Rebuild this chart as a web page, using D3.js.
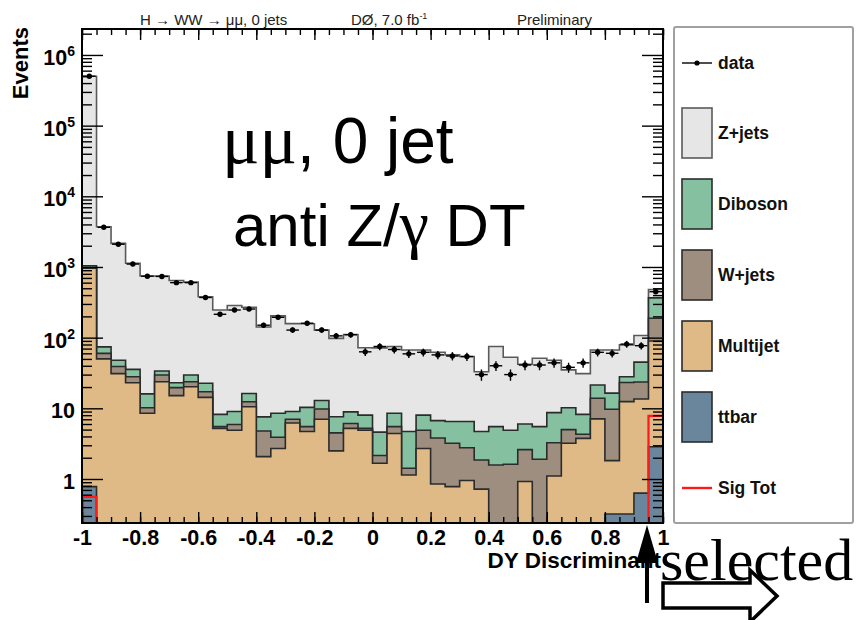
<!DOCTYPE html>
<html><head><meta charset="utf-8">
<script src="https://cdn.jsdelivr.net/npm/d3@7"></script>
<style>body{margin:0;background:#fff}svg{display:block}</style>
</head><body>
<svg id="c" width="862" height="620"></svg>
<script>
// ---------------- data ----------------
const binWidth = 0.05;
const binLow = d3.range(40).map(i => +(-1 + i * binWidth).toFixed(2));

const ttbar = [0.78,0,0,0,0,0,0,0,0,0, 0,0,0,0,0,0,0,0,0,0, 0,0,0,0,0,0,0,0,0,0, 0,0,0,0,0,0,0.32,0.32,0.63,2.86];
const multijet = [959,50,31,23,8.5,23.8,15.1,20.2,14.3,5.2, 4.9,10.5,2.07,2.7,6.2,4.7,7.0,2.5,5.2,4.9,
                  1.67,4.4,1.14,2.7,0.85,0.78,0.95,0.72,0,0, 0.92,0,1.1,3.2,3.76,7.1,1.5,12.1,12.9,87];
const wjets = [20,10,8,5,1.7,5.8,4.5,3.6,2.9,0.3, 1.0,1.9,2.7,1.2,0.8,0.8,2.8,2.0,0.9,0.3,
               0.48,1.1,0.28,2.2,2.95,2.42,1.82,1.14,1.58,1.62, 1.68,1.9,2.16,1.8,0.54,6.8,7.9,10.8,10.0,98];
const diboson = [60,14,9,7.6,5.8,4.1,3.4,5.8,5.4,2.7, 3.1,3.8,2.8,4.6,2.0,4.8,3.1,3.1,2.8,2.8,
                 2.45,3.0,3.28,3.1,2.9,3.3,3.73,2.84,3.92,3.28, 3.4,3.6,5.44,5.2,3.9,7.5,6.7,4.8,21.5,177];
const zjets = [499000,3626,2112,1094,730,712,622,580,357,238, 276,253,134,195,149,147,115,90,102,64,
               67,66.5,62.3,59,55.3,50.5,47.5,28.3,69.5,48, 36,45.5,39.3,24.8,22.8,45.6,50.6,51,62,115];
const sigTot = [0.56,0,0,0,0,0,0,0,0,0, 0,0,0,0,0,0,0,0,0,0, 0,0,0,0,0,0,0,0,0,0, 0,0,0,0,0,0,0,0,0,7.8];
const dataCounts = [500000,3640,2100,1100,740,735,600,600,370,214, 246,254,150,194,128,160,128,106,110,63,
                    75,68,59,62,57,55,54,30,40,30, 41,41,44,38,44,62,60,81,77,447];

const xTickValues = [-1,-0.8,-0.6,-0.4,-0.2,0,0.2,0.4,0.6,0.8,1];
const xTickLabels = ["-1","-0.8","-0.6","-0.4","-0.2","0","0.2","0.4","0.6","0.8","1"];
const yTickValues = [1,10,100,1000,10000,100000,1000000];
const yTickBase = ["1","10","10","10","10","10","10"];
const yTickExp = ["","","2","3","4","5","6"];

const seriesKeys = ["ttbar","multijet","wjets","diboson","zjets"]; // bottom -> top
const seriesNames = {ttbar:"ttbar",multijet:"Multijet",wjets:"W+jets",diboson:"Diboson",zjets:"Z+jets"};
const seriesFill = {ttbar:"#6a869d",multijet:"#dfba86",wjets:"#9e8e7f",diboson:"#85c1a1",zjets:"#e6e6e6"};
const seriesStroke = {ttbar:"#2b2b2b",multijet:"#2b2b2b",wjets:"#2b2b2b",diboson:"#2b2b2b",zjets:"#5a5a5a"};

// ---------------- layout ----------------
const FONT = "'Liberation Sans', Arial, Helvetica, sans-serif";
const SERIF = "'Liberation Serif', 'Times New Roman', serif";
const L = 82, R = 663, T = 29, B = 523;
const yMin = 0.2384, yMax = 2.33e6;

const svg = d3.select("#c");
const x = d3.scaleLinear().domain([-1, 1]).range([L, R]);
const y = d3.scaleLog().domain([yMin, yMax]).range([B, T]);
const yc = v => y(Math.max(v, yMin));

const table = binLow.map((b, i) => ({
  bin: b, ttbar: ttbar[i], multijet: multijet[i], wjets: wjets[i], diboson: diboson[i], zjets: zjets[i]
}));
const stacked = d3.stack().keys(seriesKeys)(table);

const plot = svg.append("g");
const stepArea = d3.area().x(d => x(d.x)).y0(B).y1(d => yc(d.v)).curve(d3.curveStepAfter);
const stepLine = d3.line().x(d => x(d.x)).y(d => yc(d.v)).curve(d3.curveStepAfter);
const toSteps = vals => binLow.map((b, i) => ({x: b, v: vals[i]})).concat([{x: 1, v: vals[vals.length - 1]}]);

for (let k = stacked.length - 1; k >= 0; k--) {
  const layer = stacked[k];
  const key = layer.key;
  const tops = layer.map(d => d[1]);
  plot.append("path")
    .attr("d", stepArea(toSteps(tops)))
    .attr("fill", seriesFill[key])
    .attr("stroke", seriesStroke[key])
    .attr("stroke-width", 1.6)
    .attr("stroke-linejoin", "miter");
}

// signal
plot.append("path")
  .attr("d", stepLine(toSteps(sigTot)))
  .attr("fill", "none").attr("stroke", "#ff1a1a").attr("stroke-width", 2.2);
plot.append("line").attr("x1", x(-1)+1).attr("x2", x(-1)+1).attr("y1", B).attr("y2", yc(sigTot[0]))
  .attr("stroke", "#ff1a1a").attr("stroke-width", 2.2);

// data points
const dg = plot.append("g");
dataCounts.forEach((n, i) => {
  const cx = x(binLow[i] + binWidth / 2), cy = y(n);
  const err = Math.sqrt(n);
  dg.append("line").attr("x1", x(binLow[i]) + 1).attr("x2", x(binLow[i] + binWidth) - 1)
    .attr("y1", cy).attr("y2", cy).attr("stroke", "#000").attr("stroke-width", 1.4);
  dg.append("line").attr("x1", cx).attr("x2", cx)
    .attr("y1", yc(n + err)).attr("y2", yc(Math.max(n - err, yMin)))
    .attr("stroke", "#000").attr("stroke-width", 1.4);
  dg.append("circle").attr("cx", cx).attr("cy", cy).attr("r", 2.7).attr("fill", "#000");
});

// ---------------- axes ----------------
const xMinor = d3.range(41).map(i => +(-1 + i * 0.05).toFixed(2));
const yMinor = [];
for (let e = -1; e <= 6; e++) for (let m = 2; m <= 9; m++) {
  const v = m * Math.pow(10, e);
  if (v > yMin && v < yMax) yMinor.push(v);
}
function styleAxis(g) {
  g.select(".domain").remove();
  g.selectAll(".tick line").attr("stroke", "#000").attr("stroke-width", 1.4);
}
svg.append("g").attr("transform", `translate(0,${B})`)
  .call(d3.axisBottom(x).tickValues(xMinor).tickSize(-6).tickFormat(""))
  .call(styleAxis);
svg.append("g").attr("transform", `translate(0,${B})`)
  .call(d3.axisBottom(x).tickValues(xTickValues).tickSize(-11).tickPadding(7)
        .tickFormat((d, i) => xTickLabels[i]))
  .call(styleAxis)
  .call(g => g.selectAll("text").attr("font-family", FONT).attr("font-weight", "bold")
        .attr("font-size", 21.5).attr("fill", "#000"));
svg.append("g").attr("transform", `translate(0,${T})`)
  .call(d3.axisTop(x).tickValues(xMinor).tickSize(-6).tickFormat("")).call(styleAxis);
svg.append("g").attr("transform", `translate(0,${T})`)
  .call(d3.axisTop(x).tickValues(xTickValues).tickSize(-11).tickFormat("")).call(styleAxis);
svg.append("g").attr("transform", `translate(${L},0)`)
  .call(d3.axisLeft(y).tickValues(yMinor).tickSize(-10).tickFormat("")).call(styleAxis);
svg.append("g").attr("transform", `translate(${L},0)`)
  .call(d3.axisLeft(y).tickValues(yTickValues).tickSize(-21).tickFormat("")).call(styleAxis);
svg.append("g").attr("transform", `translate(${R},0)`)
  .call(d3.axisRight(y).tickValues(yMinor).tickSize(-10).tickFormat("")).call(styleAxis);
svg.append("g").attr("transform", `translate(${R},0)`)
  .call(d3.axisRight(y).tickValues(yTickValues).tickSize(-21).tickFormat("")).call(styleAxis);

yTickValues.forEach((v, i) => {
  const t = svg.append("text").attr("x", 75).attr("y", y(v) + 10)
    .attr("text-anchor", "end").attr("font-family", FONT).attr("font-weight", "bold")
    .attr("font-size", 21.5).attr("fill", "#000");
  t.append("tspan").text(yTickBase[i]);
  if (yTickExp[i]) t.append("tspan").attr("dy", -9).attr("font-size", 14).text(yTickExp[i]);
});

svg.append("rect").attr("x", L).attr("y", T).attr("width", R - L).attr("height", B - T)
  .attr("fill", "none").attr("stroke", "#000").attr("stroke-width", 2);

svg.append("text").attr("transform", `translate(28,27) rotate(-90)`).attr("text-anchor", "end")
  .attr("font-family", FONT).attr("font-weight", "bold").attr("font-size", 22).text("Events");
svg.append("text").attr("x", 661).attr("y", 568).attr("text-anchor", "end")
  .attr("font-family", FONT).attr("font-weight", "bold").attr("font-size", 22.5).text("DY Discriminant");

// header
const hdr = svg.append("g").attr("font-family", FONT).attr("font-size", 15).attr("fill", "#222");
hdr.append("text").attr("x", 140).attr("y", 25).text("H \u2192 WW \u2192 \u03bc\u03bc, 0 jets");
const h2 = hdr.append("text").attr("x", 351).attr("y", 25);
h2.append("tspan").text("D\u00d8, 7.0 fb");
h2.append("tspan").attr("dy", -6).attr("font-size", 9).text("-1");
hdr.append("text").attr("x", 517).attr("y", 25).text("Preliminary");

// ---------------- legend ----------------
const lg = svg.append("g");
lg.append("rect").attr("x", 674).attr("y", 27).attr("width", 179).attr("height", 496).attr("rx", 2)
  .attr("fill", "#fff").attr("stroke", "#a0a0a0").attr("stroke-width", 2);
const legendRows = [
  {type: "data", label: "data", cy: 63},
  {type: "box", key: "zjets", cy: 133},
  {type: "box", key: "diboson", cy: 204},
  {type: "box", key: "wjets", cy: 275},
  {type: "box", key: "multijet", cy: 346},
  {type: "box", key: "ttbar", cy: 417},
  {type: "sig", label: "Sig Tot", cy: 488}
];
legendRows.forEach(r => {
  if (r.type === "data") {
    lg.append("line").attr("x1", 682).attr("x2", 712).attr("y1", r.cy).attr("y2", r.cy)
      .attr("stroke", "#000").attr("stroke-width", 1.4);
    lg.append("circle").attr("cx", 697).attr("cy", r.cy).attr("r", 2.6).attr("fill", "#000");
  } else if (r.type === "box") {
    lg.append("rect").attr("x", 682).attr("y", r.cy - 25).attr("width", 30).attr("height", 50)
      .attr("fill", seriesFill[r.key]).attr("stroke", seriesStroke[r.key]).attr("stroke-width", 1.6);
  } else {
    lg.append("line").attr("x1", 682).attr("x2", 712).attr("y1", r.cy).attr("y2", r.cy)
      .attr("stroke", "#ff1a1a").attr("stroke-width", 2.4);
  }
  lg.append("text").attr("x", 718).attr("y", r.cy + 6).attr("font-family", FONT)
    .attr("font-weight", "bold").attr("font-size", 17.5).attr("fill", "#111")
    .text(r.type === "box" ? seriesNames[r.key] : r.label);
});

// ---------------- annotations ----------------
const ann = svg.append("g").attr("font-family", FONT).attr("fill", "#000");
const a1 = ann.append("text").attr("x", 222).attr("y", 163).attr("font-size", 64);
a1.append("tspan").attr("font-family", SERIF).attr("font-size", 70).text("\u03bc\u03bc");
a1.append("tspan").text(", 0 jet");
const a2 = ann.append("text").attr("x", 233).attr("y", 246).attr("font-size", 60);
a2.append("tspan").text("anti Z/");
a2.append("tspan").attr("font-family", SERIF).attr("font-size", 66).text("\u03b3");
a2.append("tspan").text(" DT");

// arrows
svg.append("line").attr("x1", 647).attr("x2", 647).attr("y1", 603).attr("y2", 556)
  .attr("stroke", "#000").attr("stroke-width", 4);
svg.append("polygon").attr("points", "636,563 658,563 647,525").attr("fill", "#000");
svg.append("polygon").attr("points", "663,583 750,583 750,570 777,596 750,622 750,608 663,608")
  .attr("fill", "#fff").attr("stroke", "#000").attr("stroke-width", 3.5).attr("stroke-linejoin", "miter");
svg.append("text").attr("x", 660).attr("y", 580).attr("font-family", SERIF).attr("font-size", 60)
  .attr("fill", "#000").text("selected");
</script>
</body></html>
